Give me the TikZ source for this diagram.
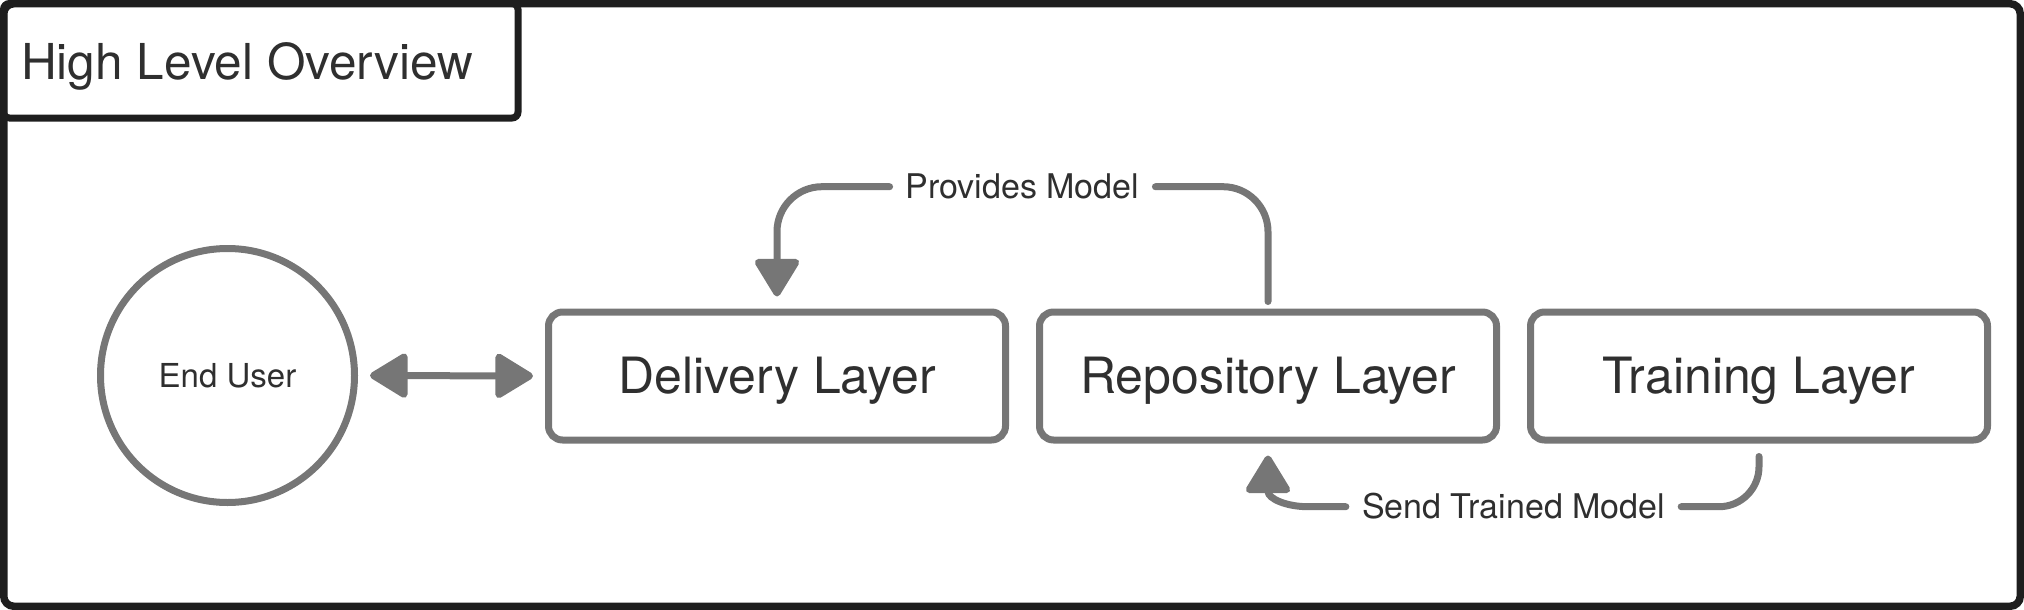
\documentclass[tikz,border=0pt]{standalone}
\usepackage{fontspec}
\setmainfont{TeX Gyre Heros}
\usetikzlibrary{arrows.meta,calc}
\definecolor{lineg}{HTML}{767676}
\definecolor{txt}{HTML}{2F2F2F}
\definecolor{frameblk}{HTML}{1E1E1E}
\tikzset{Hd/.tip={Triangle[length=41pt,width=48pt,round]}}
\begin{document}
\begin{tikzpicture}[x=1pt,y=-1pt,
  framebox/.style={draw=frameblk, line width=7.5pt, rounded corners=10pt, inner sep=0pt, minimum width=2016.5pt, minimum height=602.5pt},
  titlebox/.style={draw=frameblk, line width=7pt, rounded corners=6pt, inner sep=0pt, minimum width=514.5pt, minimum height=114.5pt},
  titletext/.style={text=txt, inner sep=0pt, font=\fontsize{49.5}{59}\selectfont, text height=35.6pt, text depth=0pt},
  layer/.style={draw=lineg, line width=7pt, rounded corners=14pt, minimum width=457pt, minimum height=128pt, inner sep=0pt, text=txt, font=\fontsize{50}{60}\selectfont, text height=35.9pt, text depth=0pt},
  circ/.style={circle, draw=lineg, line width=7pt, minimum size=254pt, inner sep=0pt, text=txt, font=\fontsize{33}{40}\selectfont, text height=23.7pt, text depth=0pt},
  lbl/.style={text=txt, inner xsep=16pt, inner ysep=0pt, font=\fontsize{34}{41}\selectfont, text height=24.4pt, text depth=0pt},
  arr/.style={draw=lineg, line width=7pt, line cap=round, line join=round}
]
\useasboundingbox (0,0) rectangle (2024,610);
\node[framebox, anchor=north west] (frame) at (0,0) {};
\node[titlebox, anchor=north west] (tbox) at (0,0) {};
\node[titletext, anchor=west] (title) at ($(tbox.west)+(21,1)$) {High Level Overview};

\node[circ] (user) at (227.5,375.5) {End User};
\node[layer] (del) at (777,376) {Delivery Layer};
\node[layer] (repo) at (1268,376) {Repository Layer};
\node[layer] (train) at (1759,376) {Training Layer};

\node[lbl] (pm) at (1022.5,186.7) {Provides Model};
\node[lbl] (stm) at (1513.5,506.7) {Send Trained Model};

\draw[arr, Hd-Hd, shorten <=12pt, shorten >=12pt] (user.east) -- (del.west);

\coordinate (pmstart) at ($(repo.north)+(0,-7)$);
\coordinate (pmend) at ($(del.north)+(0,-12)$);
\draw[arr, rounded corners=45pt] (pmstart) |- (pm.east);
\draw[arr, -Hd, rounded corners=45pt] (pm.west) -| (pmend);

\coordinate (ststart) at ($(train.south)+(0,13)$);
\draw[arr, rounded corners=40pt] (ststart) |- (stm.east);

\coordinate (sttip) at ($(repo.south)+(0,12)$);
\coordinate (stbend) at ($(repo.south)+(0,48)$);
\coordinate (sth) at (stbend |- stm.west);
\draw[arr, -Hd] (stm.west) -- ($(sth)+(40,0)$) .. controls ($(sth)+(18,0)$) and ($(stbend)+(0,7)$) .. (stbend) -- (sttip);
\end{tikzpicture}
\end{document}
